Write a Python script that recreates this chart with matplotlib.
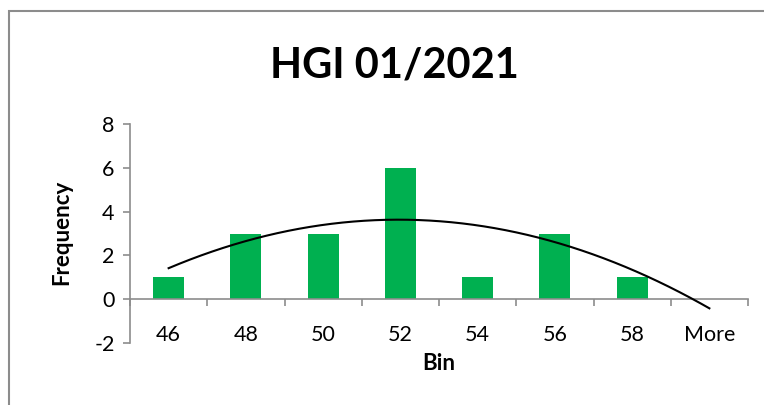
import numpy as np
import matplotlib
matplotlib.use("Agg")
import matplotlib.pyplot as plt
from matplotlib.patches import Rectangle

categories = ["46", "48", "50", "52", "54", "56", "58", "More"]
frequency = [1, 3, 3, 6, 1, 3, 1, 0]
title = "HGI 01/2021"
y_ticks = [-2, 0, 2, 4, 6, 8]

plt.rcParams['font.family'] = ['Lato', 'DejaVu Sans']

fig = plt.figure(figsize=(7.64, 4.05), dpi=100)
ax = fig.add_axes([130/764, 1-343/405, (748-130)/764, (343-124)/405])

x = np.arange(len(categories))
ax.bar(x, frequency, width=0.4, color="#00B050", zorder=2)

# polynomial (order 2) trendline of the frequencies, as in Excel
coef = np.polyfit(x + 1, frequency, 2)
xs = np.linspace(0, len(categories) - 1, 200)
ax.plot(xs, np.polyval(coef, xs + 1), color="black", lw=1.5, zorder=3)

ax.set_xlim(-0.5, len(categories) - 0.5)
ax.set_ylim(-2, 8)
ax.set_yticks(y_ticks)
ax.set_yticklabels([str(v) for v in y_ticks])

ax.set_xticks(np.arange(len(categories) + 1) - 0.5)
ax.set_xticklabels([])
ax.set_xticks(x, minor=True)
ax.set_xticklabels(categories, minor=True)
ax.tick_params(axis='x', which='major', direction='out', length=5, color='#8c8c8c', width=1.2)
ax.tick_params(axis='x', which='minor', length=0, pad=18.5, labelsize=15.5)
ax.tick_params(axis='y', direction='out', length=5, color='#8c8c8c', width=1.2, pad=6, labelsize=15.5)

for s in ['top', 'right']:
    ax.spines[s].set_visible(False)
ax.spines['bottom'].set_position(('data', 0))
ax.spines['bottom'].set_color('#8c8c8c')
ax.spines['bottom'].set_linewidth(1.2)
ax.spines['left'].set_color('#8c8c8c')
ax.spines['left'].set_linewidth(1.2)

fig.text(62/764, 1-232/405, "Frequency", rotation=90, ha='center', va='center',
         fontsize=16, fontweight='bold')
fig.text(439/764, 1-364/405, "Bin", ha='center', va='center', fontsize=16, fontweight='bold')
fig.text(394/764, 1-66/405, title, ha='center', va='center', fontsize=30, fontweight='bold')

fig.patches.append(Rectangle((9/764, -0.1), 1.2, 1.1 - 11/405, transform=fig.transFigure,
                             fill=False, edgecolor='#8c8c8c', lw=1.5))

fig.savefig("out.png", dpi=100)
